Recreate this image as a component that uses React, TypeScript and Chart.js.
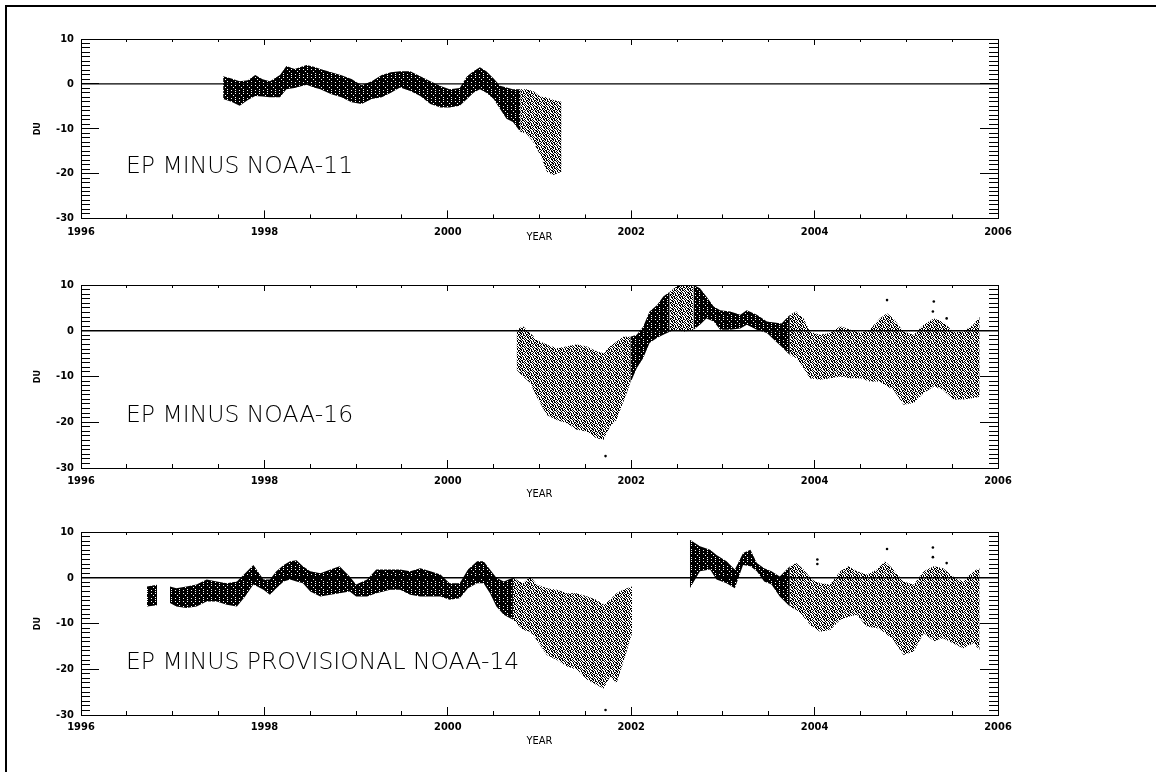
import { useEffect, useRef } from "react";
import { Chart, registerables } from "chart.js";

Chart.register(...registerables);

// ---------- axis ticks ----------
const X_MAJOR_TICKS = [1996, 1998, 2000, 2002, 2004, 2006];
const X_MINOR_TICKS = [
  1996, 1996.5, 1997, 1997.5, 1998, 1998.5, 1999, 1999.5, 2000, 2000.5, 2001,
  2001.5, 2002, 2002.5, 2003, 2003.5, 2004, 2004.5, 2005, 2005.5, 2006,
];
const Y_MAJOR_TICKS = [-30, -20, -10, 0, 10];
const Y_MINOR_TICKS = [
  -30, -29, -28, -27, -26, -25, -24, -23, -22, -21, -20, -19, -18, -17, -16,
  -15, -14, -13, -12, -11, -10, -9, -8, -7, -6, -5, -4, -3, -2, -1, 0, 1, 2,
  3, 4, 5, 6, 7, 8, 9, 10,
];

// ---------- EP minus NOAA-11 ----------
const N11_YEARS = [
  1997.55, 1997.64, 1997.73, 1997.82, 1997.9, 1997.98, 1998.06, 1998.17,
  1998.24, 1998.33, 1998.46, 1998.54, 1998.61, 1998.73, 1998.84, 1998.95,
  1999.06, 1999.17, 1999.28, 1999.38, 1999.48, 1999.59, 1999.7, 1999.81,
  1999.92, 2000.02, 2000.13, 2000.21, 2000.28, 2000.35, 2000.42, 2000.5,
  2000.57, 2000.64, 2000.71, 2000.79, 2000.86, 2000.93, 2001.01, 2001.08,
  2001.15, 2001.24,
];
const N11_LOW = [
  -3.4, -4.0, -4.9, -3.6, -2.7, -2.8, -3.0, -3.0, -1.2, -0.9, -0.2, -0.8, -1.2,
  -2.3, -3.0, -4.1, -4.5, -3.4, -3.0, -2.0, -0.8, -1.6, -2.7, -4.5, -5.3, -5.3,
  -4.9, -3.4, -2.0, -1.2, -2.0, -3.4, -5.6, -7.8, -8.5, -10.7, -11.1, -12.9,
  -15.9, -19.6, -20.3, -19.6,
];
const N11_HIGH = [
  1.7, 1.2, 0.6, 0.8, 2.0, 1.0, 0.6, 2.0, 4.0, 3.3, 4.2, 3.8, 3.3, 2.6, 1.9,
  1.1, -0.3, 0.6, 2.0, 2.6, 2.8, 2.8, 1.7, 0.6, -0.5, -1.2, -0.9, 1.7, 2.8, 3.7,
  2.8, 1.2, -0.4, -0.8, -1.2, -1.2, -1.2, -1.6, -2.9, -3.0, -3.6, -4.0,
];
const N11_OUT_YEARS: number[] = [];
const N11_OUT_VALUES: number[] = [];

// ---------- EP minus NOAA-16 ----------
const N16_YEARS = [
  2000.75, 2000.82, 2000.9, 2000.97, 2001.08, 2001.19, 2001.3, 2001.4, 2001.51,
  2001.62, 2001.7, 2001.77, 2001.84, 2001.91, 2001.99, 2002.06, 2002.13,
  2002.2, 2002.28, 2002.35, 2002.42, 2002.5, 2002.57, 2002.68, 2002.75,
  2002.82, 2002.9, 2002.97, 2003.08, 2003.19, 2003.26, 2003.37, 2003.48,
  2003.56, 2003.64, 2003.73, 2003.8, 2003.88, 2003.95, 2004.06, 2004.17,
  2004.28, 2004.39, 2004.5, 2004.6, 2004.71, 2004.79, 2004.86, 2004.97,
  2005.08, 2005.19, 2005.3, 2005.4, 2005.51, 2005.62, 2005.73, 2005.8,
];
const N16_LOW = [
  -8.5, -10.0, -11.4, -14.4, -18.4, -19.5, -20.2, -21.6, -22.0, -23.5, -23.8,
  -20.9, -19.5, -15.8, -11.5, -8.2, -6.0, -2.7, -1.6, -0.9, -0.2, 0.2, -0.2,
  0.2, 1.3, 2.7, 2.0, 0.2, 0.2, 0.5, 1.3, 0.2, -0.5, -2.0, -3.5, -5.3, -6.0,
  -8.2, -10.4, -10.7, -10.4, -10.0, -10.4, -10.4, -11.1, -11.1, -12.2, -12.9,
  -16.2, -15.8, -13.6, -12.2, -12.9, -15.0, -15.0, -14.7, -14.4,
];
const N16_HIGH = [
  0.2, 1.0, -0.5, -2.0, -3.0, -3.8, -3.4, -3.0, -3.4, -4.5, -4.9, -3.4, -2.4,
  -1.3, -1.3, -0.9, 0.9, 4.2, 5.6, 7.5, 8.5, 9.8, 10.0, 10.0, 9.3, 7.5, 5.3,
  4.5, 4.2, 3.5, 4.5, 3.5, 2.0, 1.8, 1.6, 3.5, 4.2, 2.7, -0.2, -0.9, -0.5, 1.0,
  0.2, -0.5, 0.2, 2.7, 3.8, 2.7, -0.2, -0.9, 1.3, 2.7, 2.0, -0.2, -0.2, 1.3,
  3.1,
];
const N16_OUT_YEARS = [2004.79, 2005.3, 2005.29, 2005.44, 2001.72];
const N16_OUT_VALUES = [6.7, 6.4, 4.2, 2.7, -27.4];

// ---------- EP minus provisional NOAA-14 ----------
const N14_YEARS = [
  1996.72, 1996.83, 1996.97, 1997.04, 1997.15, 1997.26, 1997.37, 1997.48,
  1997.59, 1997.7, 1997.79, 1997.88, 1997.99, 1998.06, 1998.13, 1998.21,
  1998.28, 1998.35, 1998.42, 1998.5, 1998.61, 1998.72, 1998.82, 1998.93,
  1999.0, 1999.12, 1999.22, 1999.3, 1999.37, 1999.48, 1999.59, 1999.7,
  1999.81, 1999.92, 2000.02, 2000.13, 2000.22, 2000.32, 2000.39, 2000.46,
  2000.53, 2000.61, 2000.71, 2000.82, 2000.9, 2000.97, 2001.08, 2001.19,
  2001.3, 2001.41, 2001.52, 2001.62, 2001.7, 2001.77, 2001.84, 2001.91,
  2002.01,
  2002.64, 2002.75, 2002.86, 2002.93, 2003.04, 2003.13, 2003.22, 2003.3,
  2003.37, 2003.45, 2003.53, 2003.62, 2003.73, 2003.8, 2003.88, 2003.97,
  2004.06, 2004.17, 2004.28, 2004.37, 2004.46, 2004.57, 2004.68, 2004.77,
  2004.86, 2004.97, 2005.08, 2005.19, 2005.3, 2005.4, 2005.51, 2005.62,
  2005.73, 2005.8,
];
const N14_LOW = [
  -6.3, -6.0, -5.5, -6.3, -6.6, -6.3, -5.2, -5.2, -5.9, -6.3, -4.1, -1.5, -2.6,
  -3.7, -2.3, -0.8, -0.4, -0.8, -1.2, -3.0, -4.1, -3.7, -3.4, -3.0, -4.1, -4.1,
  -3.4, -3.0, -2.6, -2.6, -3.7, -4.1, -4.1, -4.1, -4.8, -4.5, -2.3, -1.2, -1.2,
  -3.4, -6.3, -8.1, -9.2, -11.4, -11.8, -13.6, -16.9, -18.0, -19.4, -20.1,
  -22.3, -23.4, -24.2, -21.6, -23.0, -18.7, -12.1,
  -2.3, 1.4, 1.8, -0.4, -1.2, -2.3, 2.8, 2.5, 1.4, -0.8, -1.5, -4.1, -6.3,
  -7.0, -8.5, -10.7, -11.8, -11.4, -9.2, -8.5, -8.1, -10.7, -11.0, -12.1,
  -13.6, -16.9, -16.1, -12.1, -13.9, -13.2, -14.3, -15.4, -14.3, -15.8,
];
const N14_HIGH = [
  -1.9, -1.5, -1.9, -2.3, -1.9, -1.5, -0.4, -0.8, -1.2, -0.8, 1.0, 2.8, -0.4,
  -0.4, 1.4, 2.8, 3.6, 3.8, 2.5, 1.4, 1.0, 1.8, 2.5, 0.3, -1.5, -0.4, 1.8, 1.8,
  1.8, 1.8, 1.4, 2.1, 1.4, 0.7, -1.2, -1.2, 1.8, 3.6, 3.6, 1.8, 0.0, -0.8, 0.0,
  -1.2, 0.3, -1.5, -2.3, -2.6, -3.4, -3.4, -4.1, -4.8, -5.9, -4.8, -3.4, -2.6,
  -1.9,
  8.3, 6.9, 6.1, 5.0, 3.6, 1.8, 5.4, 6.1, 3.2, 2.1, 1.4, 0.3, 2.5, 3.2, 1.8,
  -0.4, -1.2, -1.5, 1.4, 2.5, 1.4, 0.7, 1.8, 3.6, 1.8, -0.8, -1.5, 1.4, 2.5,
  2.1, 0.3, -0.8, 1.4, 2.1,
];
const N14_OUT_YEARS = [2004.79, 2005.29, 2005.29, 2005.44, 2001.72, 2004.03, 2004.03];
const N14_OUT_VALUES = [6.3, 6.6, 4.5, 3.2, -28.9, 4.0, 3.0];

// ---------- styling constants ----------
// texture bitmaps for the dense and the sparse parts of the data band
const DENSE_BITMAP = [
  "XXXXXXXX",
  "XXX.XXXX",
  "XXXXXXX.",
  "XXX.XXXX",
  "XXXXXXXX",
  "XXX.XXX.",
  "XXXXXXXX",
  "X.XXXXXX",
];
const SPARSE_BITMAP = [
  "X.XX.X..",
  ".X..X.X.",
  "X.X..X.X",
  "XX.X.X..",
  ".X.X..XX",
  "X..XX.X.",
  ".XX..X.X",
  "X.X.X..X",
];
const GAP_YEARS = 0.135; // spacing above which the band is broken
const SPARSE_RANGE = 9; // DU spread above which the band is drawn sparse

type PanelCfg = {
  label: string;
  years: number[];
  low: number[];
  high: number[];
  outYears: number[];
  outValues: number[];
  top: number;
  height: number;
  padTop: number;
  padBottom: number;
  xLabelPad: number;
  yearGap: number;
};

const PANELS: PanelCfg[] = [
  {
    label: "EP MINUS NOAA-11",
    years: N11_YEARS, low: N11_LOW, high: N11_HIGH,
    outYears: N11_OUT_YEARS, outValues: N11_OUT_VALUES,
    top: 0, height: 250, padTop: 39, padBottom: 30, xLabelPad: 15.5, yearGap: 18.5,
  },
  {
    label: "EP MINUS NOAA-16",
    years: N16_YEARS, low: N16_LOW, high: N16_HIGH,
    outYears: N16_OUT_YEARS, outValues: N16_OUT_VALUES,
    top: 250, height: 250, padTop: 35, padBottom: 32, xLabelPad: 15, yearGap: 26,
  },
  {
    label: "EP MINUS PROVISIONAL NOAA-14",
    years: N14_YEARS, low: N14_LOW, high: N14_HIGH,
    outYears: N14_OUT_YEARS, outValues: N14_OUT_VALUES,
    top: 500, height: 272, padTop: 32, padBottom: 57, xLabelPad: 14, yearGap: 26,
  },
];

const FAMILY = '"DejaVu Sans Condensed", "DejaVu Sans", sans-serif';

const panelLabelPlugin = {
  id: "panelLabel",
  afterDatasetsDraw(chart: any, _args: any, opts: any) {
    const { ctx, scales } = chart;
    ctx.save();
    ctx.font = '200 23.5px "DejaVu Sans", sans-serif';
    ctx.fillStyle = "#000";
    ctx.textAlign = "left";
    ctx.textBaseline = "middle";
    ctx.fillText(opts.text, scales.x.getPixelForValue(opts.x), scales.y.getPixelForValue(opts.y));
    ctx.restore();
  },
};

function makePattern(ctx: CanvasRenderingContext2D, bitmap: string[]) {
  const pc = document.createElement("canvas");
  pc.width = bitmap[0].length;
  pc.height = bitmap.length;
  const g = pc.getContext("2d")!;
  g.fillStyle = "#000";
  bitmap.forEach((row, y) => {
    for (let x = 0; x < row.length; x++) if (row[x] === "X") g.fillRect(x, y, 1, 1);
  });
  return ctx.createPattern(pc, "repeat") as CanvasPattern;
}

function tickAxis(
  axis: "x" | "y",
  position: string,
  ticks: number[],
  tickLength: number,
  border: boolean,
  size: number,
  weight: number
): any {
  return {
    type: "linear",
    axis,
    position,
    weight,
    min: axis === "x" ? 1996 : -30,
    max: axis === "x" ? 2006 : 10,
    offset: false,
    afterBuildTicks: (s: any) => {
      s.ticks = ticks.map((value) => ({ value }));
    },
    afterFit: (s: any) => {
      if (axis === "x") s.height = size;
      else s.width = size;
    },
    grid: {
      offset: false,
      drawOnChartArea: false,
      drawTicks: true,
      tickLength,
      color: "#000",
      lineWidth: 1,
    },
    border: { display: border, color: "#000", width: 1 },
    ticks: { display: false, autoSkip: false, maxRotation: 0, minRotation: 0 },
  };
}

function Panel({ cfg }: { cfg: PanelCfg }) {
  const ref = useRef<HTMLCanvasElement | null>(null);

  useEffect(() => {
    const canvas = ref.current;
    if (!canvas) return;
    const ctx = canvas.getContext("2d")!;
    const dense = makePattern(ctx, DENSE_BITMAP);
    const sparse = makePattern(ctx, SPARSE_BITMAP);

    const xMain = tickAxis("x", "bottom", X_MAJOR_TICKS, -8, true, cfg.padBottom, 1);
    xMain.ticks = {
      display: true,
      autoSkip: false,
      maxRotation: 0,
      minRotation: 0,
      padding: cfg.xLabelPad,
      color: "#000",
      font: { family: FAMILY, size: 11, weight: "bold" },
      callback: (v: any) => String(v),
    };
    xMain.title = {
      display: true,
      text: "YEAR",
      color: "#000",
      font: { family: FAMILY, size: 11, weight: "normal" },
      padding: { top: 0, bottom: cfg.padBottom - cfg.yearGap - 6.6 },
    };

    const yMain = tickAxis("y", "left", Y_MAJOR_TICKS, -18, true, 81, 1);
    yMain.ticks = {
      display: true,
      autoSkip: false,
      padding: 25,
      color: "#000",
      font: { family: FAMILY, size: 11, weight: "bold" },
      callback: (v: any) => String(v),
    };
    yMain.title = {
      display: true,
      text: "DU",
      color: "#000",
      font: { family: FAMILY, size: 9, weight: "bold" },
      padding: { top: 32.6, bottom: 0 },
    };

    const segColor = (c: any) => {
      const i0 = c.p0DataIndex;
      const i1 = c.p1DataIndex;
      if (cfg.years[i1] - cfg.years[i0] > GAP_YEARS) return "rgba(0,0,0,0)";
      const spread =
        (cfg.high[i0] - cfg.low[i0] + cfg.high[i1] - cfg.low[i1]) / 2;
      return spread > SPARSE_RANGE ? sparse : dense;
    };

    const chart = new Chart(canvas, {
      type: "line",
      data: {
        datasets: [
          {
            data: [
              { x: 1996, y: 0 },
              { x: 2006, y: 0 },
            ],
            borderColor: "#000",
            borderWidth: 1.3,
            pointRadius: 0,
            fill: false,
            xAxisID: "x",
            yAxisID: "y",
            order: 0,
          },
          {
            data: cfg.outYears.map((x, i) => ({ x, y: cfg.outValues[i] })),
            showLine: false,
            pointRadius: 1.3,
            pointBorderWidth: 0,
            pointBackgroundColor: "#000",
            fill: false,
            xAxisID: "x",
            yAxisID: "y",
            order: 1,
          },
          {
            label: "high",
            data: cfg.years.map((x, i) => ({ x, y: cfg.high[i] })),
            borderWidth: 0,
            borderColor: "rgba(0,0,0,0)",
            pointRadius: 0,
            tension: 0,
            fill: "+1",
            backgroundColor: dense,
            segment: { backgroundColor: segColor },
            xAxisID: "x",
            yAxisID: "y",
            order: 2,
          },
          {
            label: "low",
            data: cfg.years.map((x, i) => ({ x, y: cfg.low[i] })),
            borderWidth: 0,
            borderColor: "rgba(0,0,0,0)",
            pointRadius: 0,
            tension: 0,
            fill: false,
            xAxisID: "x",
            yAxisID: "y",
            order: 3,
          },
        ] as any,
      },
      options: {
        animation: false,
        responsive: false,
        maintainAspectRatio: false,
        layout: {
          padding: { left: 0, right: 158, top: cfg.padTop, bottom: 0 },
        },
        plugins: {
          legend: { display: false },
          tooltip: { enabled: false },
          panelLabel: { text: cfg.label, x: 1996.49, y: -18.6 },
        } as any,
        scales: {
          x: xMain,
          xMinor: tickAxis("x", "bottom", X_MINOR_TICKS, -4, false, 0, 0),
          xTop: tickAxis("x", "top", X_MAJOR_TICKS, -6, true, 0, 0),
          xTopMinor: tickAxis("x", "top", X_MINOR_TICKS, -3, false, 0, 0),
          y: yMain,
          yMinor: tickAxis("y", "left", Y_MINOR_TICKS, -9, false, 0, 0),
          yRight: tickAxis("y", "right", Y_MAJOR_TICKS, -18, true, 0, 0),
          yRightMinor: tickAxis("y", "right", Y_MINOR_TICKS, -9, false, 0, 0),
        },
      } as any,
      plugins: [panelLabelPlugin as any],
    });

    return () => chart.destroy();
  }, [cfg]);

  return (
    <canvas
      ref={ref}
      width={1156}
      height={cfg.height}
      style={{ position: "absolute", left: 0, top: cfg.top, width: 1156, height: cfg.height }}
    />
  );
}

export default function App() {
  return (
    <div
      style={{
        position: "absolute",
        left: 0,
        top: 0,
        width: 1156,
        height: 772,
        background: "#fff",
        overflow: "hidden",
      }}
    >
      <div
        style={{
          position: "absolute",
          left: 5,
          top: 5,
          width: 1151,
          height: 767,
          borderTop: "2px solid #000",
          borderLeft: "2px solid #000",
          boxSizing: "border-box",
        }}
      />
      {PANELS.map((p) => (
        <Panel key={p.label} cfg={p} />
      ))}
    </div>
  );
}
